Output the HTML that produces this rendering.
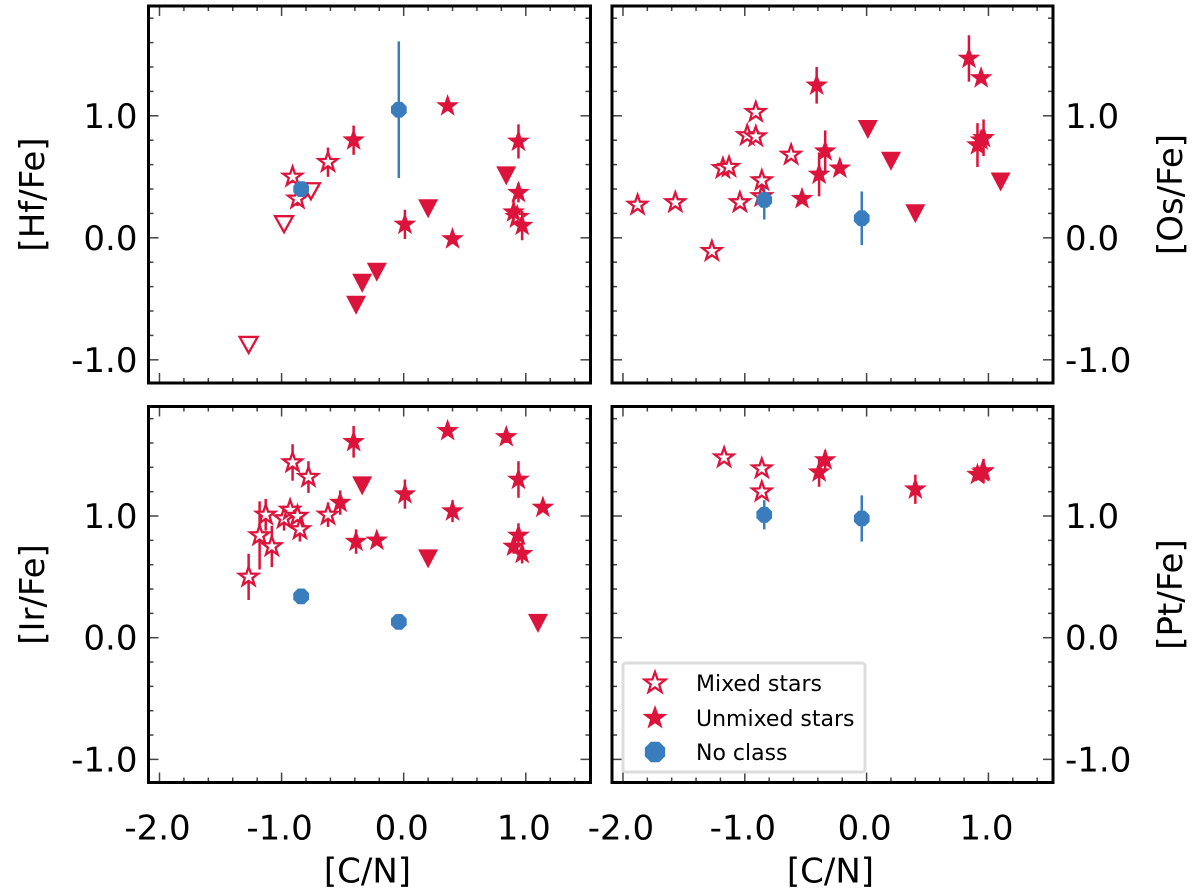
<!DOCTYPE html>
<html><head><meta charset="utf-8"><style>
body{margin:0;background:#fff;}
svg{display:block;font-family:"DejaVu Sans","Liberation Sans",sans-serif;}
</style></head><body>
<svg id="fig" width="1200" height="893" viewBox="0 0 1200 893" xmlns="http://www.w3.org/2000/svg"></svg>
<script>
// ---- data: [C/N] x, abundance y, error ----
const hfMixedX=[-0.91,-0.87,-0.62,0.93];
const hfMixedY=[0.50,0.32,0.62,0.17];
const hfMixedE=[0.05,0.06,0.12,0.05];
const hfMixedLimX=[-0.98,-0.76,-1.27];
const hfMixedLimY=[0.12,0.39,-0.87];
const hfUnX=[-0.41,0.36,0.01,0.40,0.94,0.94,0.90,0.97];
const hfUnY=[0.80,1.08,0.11,-0.01,0.79,0.37,0.21,0.10];
const hfUnE=[0.12,0,0.12,0,0.14,0.08,0.1,0.12];
const hfUnLimX=[0.84,0.20,-0.22,-0.34,-0.39];
const hfUnLimY=[0.52,0.25,-0.27,-0.36,-0.54];
const hfNoX=[-0.84,-0.04];
const hfNoY=[0.40,1.05];
const hfNoE=[0,0.56];

const osMixedX=[-1.88,-1.57,-1.27,-1.18,-1.13,-1.04,-0.98,-0.91,-0.91,-0.86,-0.86,-0.62];
const osMixedY=[0.27,0.29,-0.11,0.57,0.58,0.29,0.84,0.83,1.03,0.47,0.34,0.68];
const osMixedE=[0,0,0,0,0,0,0,0,0,0,0,0];
const osUnX=[-0.41,-0.53,-0.39,-0.34,-0.22,0.84,0.94,0.91,0.96,0.94];
const osUnY=[1.25,0.32,0.52,0.71,0.57,1.47,1.31,0.76,0.82,0.80];
const osUnE=[0.15,0,0.18,0.17,0,0.19,0,0.18,0.15,0];
const osUnLimX=[0.01,0.20,0.40,1.10];
const osUnLimY=[0.90,0.64,0.21,0.47];
const osNoX=[-0.84,-0.04];
const osNoY=[0.31,0.16];
const osNoE=[0.16,0.22];

const irMixedX=[-1.27,-1.18,-1.13,-1.08,-0.98,-0.93,-0.91,-0.87,-0.85,-0.78,-0.62];
const irMixedY=[0.50,0.84,1.01,0.75,0.98,1.05,1.44,1.00,0.89,1.32,1.01];
const irMixedE=[0.19,0.28,0.13,0.17,0.10,0.06,0.15,0.05,0.10,0.13,0.10];
const irUnX=[-0.52,-0.41,-0.39,-0.22,0.01,0.36,0.40,0.84,0.94,0.94,0.90,0.97,1.14];
const irUnY=[1.11,1.61,0.79,0.80,1.18,1.70,1.04,1.65,1.30,0.84,0.75,0.69,1.07];
const irUnE=[0.10,0.13,0.10,0,0.12,0,0.09,0.05,0.15,0.10,0.06,0.08,0];
const irUnLimX=[-0.34,0.20,1.10];
const irUnLimY=[1.26,0.66,0.13];
const irNoX=[-0.84,-0.04];
const irNoY=[0.34,0.13];
const irNoE=[0,0];

const ptMixedX=[-1.17,-0.86,-0.86];
const ptMixedY=[1.48,1.39,1.20];
const ptMixedE=[0,0,0];
const ptUnX=[-0.39,-0.34,0.40,0.91,0.96,0.95];
const ptUnY=[1.36,1.46,1.22,1.34,1.37,1.36];
const ptUnE=[0.12,0.08,0.12,0,0.1,0];
const ptNoX=[-0.84,-0.04];
const ptNoY=[1.01,0.98];
const ptNoE=[0.12,0.19];

const xTickLabels=["-2.0","-1.0","0.0","1.0"];
const xTickVals=[-2,-1,0,1];
const yTickLabels=["1.0","0.0","-1.0"];
const yTickVals=[1,0,-1];

const RED="#dc143c", BLUE="#3a7dbf";
const NS="http://www.w3.org/2000/svg";
const svg=document.getElementById('fig');
function mk(tag,attrs,parent){const e=document.createElementNS(NS,tag);for(const k in attrs)e.setAttribute(k,attrs[k]);(parent||svg).appendChild(e);return e;}

function starPath(cx,cy,R){let d="";for(let i=0;i<10;i++){const r=i%2?R*0.4:R;const a=-Math.PI/2+i*Math.PI/5;d+=(i?"L":"M")+(cx+r*Math.cos(a)).toFixed(1)+","+(cy+r*Math.sin(a)).toFixed(1);}return d+"Z";}
function octPath(cx,cy,R){let d="";for(let i=0;i<8;i++){const a=Math.PI/8+i*Math.PI/4;d+=(i?"L":"M")+(cx+R*Math.cos(a)).toFixed(1)+","+(cy+R*Math.sin(a)).toFixed(1);}return d+"Z";}

const FS=34;
function panel(name,box,right,bottom,ylabel,series){
  const g=mk('g',{});
  
  
  const xmin=-2.09,xmax=1.53,ymin=-1.19,ymax=1.90;
  const sx=v=>box.x0+(v-xmin)/(xmax-xmin)*(box.x1-box.x0);
  const sy=v=>box.y1-(v-ymin)/(ymax-ymin)*(box.y1-box.y0);
  for(let v=-2;v<=1.5001;v+=0.2){const X=sx(v);const major=Math.abs(v-Math.round(v))<1e-6;const L=major?10:5;
    const t1=mk('line',{x1:X,x2:X,y1:box.y1,y2:box.y1-L,stroke:'#444','stroke-width':1.5},g);
    
    const t2=mk('line',{x1:X,x2:X,y1:box.y0,y2:box.y0+L,stroke:'#444','stroke-width':1.5},g);
    }
  for(let v=-1.2;v<=1.8001;v+=0.2){if(v<ymin)continue;const Y=sy(v);const major=Math.abs(v-Math.round(v))<1e-6;const L=major?10:5;
    const t1=mk('line',{x1:box.x0,x2:box.x0+L,y1:Y,y2:Y,stroke:'#444','stroke-width':1.5},g);
    
    const t2=mk('line',{x1:box.x1,x2:box.x1-L,y1:Y,y2:Y,stroke:'#444','stroke-width':1.5},g);
    }
  yTickVals.forEach((v,i)=>{const t=mk('text',{x:right?box.x1+12:box.x0-11,y:sy(v)+12,'font-size':FS,'text-anchor':right?'start':'end',fill:'#000'},g);t.textContent=yTickLabels[i];
    });
  if(bottom){xTickVals.forEach((v,i)=>{const t=mk('text',{x:sx(v)-2,y:box.y1+57,'font-size':FS,'text-anchor':'middle',fill:'#000'},g);t.textContent=xTickLabels[i];
    });
    const xl=mk('text',{x:(box.x0+box.x1)/2-2,y:box.y1+100,'font-size':FS,'text-anchor':'middle',fill:'#000'},g);xl.textContent='[C/N]';
    }
  const cy=(box.y0+box.y1)/2;const lx=right?1182:44;
  const yl=mk('text',{x:lx,y:cy,'font-size':FS,'text-anchor':'middle',fill:'#000',transform:`rotate(-90 ${lx} ${cy})`},g);yl.textContent=ylabel;
  
  function err(xs,ys,es,col){xs.forEach((x,i)=>{if(!es||!es[i])return;const l=mk('line',{x1:sx(x),x2:sx(x),y1:sy(ys[i]-es[i]),y2:sy(ys[i]+es[i]),stroke:col,'stroke-width':2.5},g);
    });}
  const s=series;
  if(s.noX){err(s.noX,s.noY,s.noE,BLUE);}
  if(s.mX){err(s.mX,s.mY,s.mE,RED);s.mX.forEach((x,i)=>{const p=mk('path',{d:starPath(sx(x),sy(s.mY[i]),10),fill:'#fff',stroke:RED,'stroke-width':2.3},g);
    });}
  if(s.mlX){s.mlX.forEach((x,i)=>{const X=sx(x),Y=sy(s.mlY[i]);const p=mk('path',{d:`M${X-9},${Y-7}L${X+9},${Y-7}L${X},${Y+9}Z`,fill:'#fff',stroke:RED,'stroke-width':2.3},g);
    });}
  if(s.uX){err(s.uX,s.uY,s.uE,RED);s.uX.forEach((x,i)=>{const p=mk('path',{d:starPath(sx(x),sy(s.uY[i]),12),fill:RED},g);
    });}
  if(s.ulX){s.ulX.forEach((x,i)=>{const X=sx(x),Y=sy(s.ulY[i]);const p=mk('path',{d:`M${X-10},${Y-8}L${X+10},${Y-8}L${X},${Y+11}Z`,fill:RED},g);
    });}
  if(s.noX){s.noX.forEach((x,i)=>{const p=mk('path',{d:octPath(sx(x),sy(s.noY[i]),8.5),fill:BLUE},g);
    });}
  const fr=mk('rect',{x:box.x0,y:box.y0,width:box.x1-box.x0,height:box.y1-box.y0,fill:'none',stroke:'#000','stroke-width':3},g);
  
  return {sx,sy,g};
}
const TL={x0:148.5,x1:590.5,y0:6,y1:383}, TR={x0:612,x1:1053,y0:6,y1:383};
const BL={x0:148.5,x1:590.5,y0:406.5,y1:782.5}, BR={x0:612,x1:1053,y0:406.5,y1:782.5};
panel('hf',TL,false,false,'[Hf/Fe]',{mX:hfMixedX,mY:hfMixedY,mE:hfMixedE,mlX:hfMixedLimX,mlY:hfMixedLimY,uX:hfUnX,uY:hfUnY,uE:hfUnE,ulX:hfUnLimX,ulY:hfUnLimY,noX:hfNoX,noY:hfNoY,noE:hfNoE});
panel('os',TR,true,false,'[Os/Fe]',{mX:osMixedX,mY:osMixedY,mE:osMixedE,uX:osUnX,uY:osUnY,uE:osUnE,ulX:osUnLimX,ulY:osUnLimY,noX:osNoX,noY:osNoY,noE:osNoE});
panel('ir',BL,false,true,'[Ir/Fe]',{mX:irMixedX,mY:irMixedY,mE:irMixedE,uX:irUnX,uY:irUnY,uE:irUnE,ulX:irUnLimX,ulY:irUnLimY,noX:irNoX,noY:irNoY,noE:irNoE});
panel('pt',BR,true,true,'[Pt/Fe]',{mX:ptMixedX,mY:ptMixedY,mE:ptMixedE,uX:ptUnX,uY:ptUnY,uE:ptUnE,noX:ptNoX,noY:ptNoY,noE:ptNoE});

const lg=mk('g',{});


const lb=mk('rect',{x:623,y:663,width:242,height:109,rx:3,fill:'#fff',stroke:'#ddd','stroke-width':3},lg);

const le=[['Mixed stars','m',683],['Unmixed stars','u',718],['No class','n',752]];
le.forEach(([txt,k,y])=>{let p;
  if(k==='m')p=mk('path',{d:starPath(655,y,11),fill:'#fff',stroke:RED,'stroke-width':2.3},lg);
  else if(k==='u')p=mk('path',{d:starPath(655,y,13),fill:RED},lg);
  else p=mk('path',{d:octPath(655,y,11),fill:BLUE},lg);
  
  const t=mk('text',{x:696,y:y+8,'font-size':22,fill:'#000'},lg);t.textContent=txt;
  
});
</script>
</body></html>
